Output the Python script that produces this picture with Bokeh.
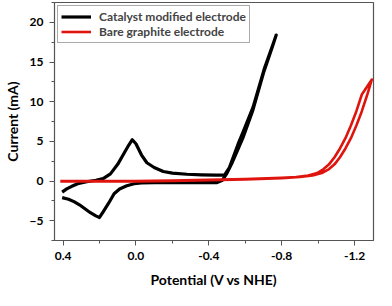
from bokeh.plotting import figure
from bokeh.models import Range1d, FixedTicker, Legend, LegendItem
from bokeh.embed import file_html
from bokeh.resources import INLINE

# Catalyst modified electrode (black CV)
cat_v = [0.405, 0.38, 0.355, 0.32, 0.27, 0.22, 0.18, 0.14, 0.10, 0.07, 0.04, 0.02, 0.0,
         -0.03, -0.06, -0.10, -0.15, -0.20, -0.28, -0.36, -0.44, -0.487, -0.513, -0.539,
         -0.565, -0.59, -0.643, -0.704, -0.747, -0.77,
         -0.75, -0.70, -0.64, -0.59, -0.56, -0.53, -0.50, -0.475, -0.445, -0.40, -0.30,
         -0.20, -0.10, -0.03, 0.01, 0.05, 0.09, 0.12, 0.15, 0.18, 0.20, 0.22, 0.25, 0.28,
         0.31, 0.34, 0.37, 0.405]
cat_i = [-1.4, -1.0, -0.7, -0.35, -0.1, 0.1, 0.3, 0.9, 2.1, 3.3, 4.5, 5.2, 4.7,
         3.3, 2.3, 1.7, 1.2, 1.0, 0.85, 0.78, 0.75, 0.77, 1.7, 3.3,
         4.9, 6.3, 9.3, 14.1, 16.9, 18.4,
         17.0, 13.6, 8.8, 5.6, 4.0, 2.4, 1.0, 0.1, -0.2, -0.2, -0.2,
         -0.2, -0.2, -0.25, -0.35, -0.6, -1.0, -1.6, -2.8, -3.9, -4.6, -4.4, -4.0, -3.5,
         -3.0, -2.6, -2.3, -2.1]

# Bare graphite electrode (red CV)
bare_v = [0.415, 0.2, 0.0, -0.2, -0.4, -0.6, -0.8, -0.9, -0.97, -1.02, -1.06, -1.09, -1.12,
          -1.15, -1.18, -1.21, -1.24, -1.27, -1.295,
          -1.24, -1.21, -1.18, -1.15, -1.12, -1.09, -1.06, -1.03, -0.995, -0.945,
          -0.88, -0.8, -0.6, -0.4, -0.2, 0.0, 0.2, 0.415]
bare_i = [-0.05, -0.05, -0.05, 0.0, 0.1, 0.2, 0.35, 0.5, 0.7, 1.0, 1.5, 2.1, 3.0,
          4.1, 5.4, 7.0, 8.8, 10.9, 12.8,
          10.9, 8.8, 7.0, 5.4, 4.1, 3.0, 2.1, 1.5, 1.0, 0.7,
          0.5, 0.4, 0.25, 0.15, 0.05, 0.0, 0.0, 0.0]

x_ticks = [0.4, 0.0, -0.4, -0.8, -1.2]
x_tick_labels = ["0.4", "0.0", "-0.4", "-0.8", "-1.2"]
x_minor = [0.4, 0.2, 0.0, -0.2, -0.4, -0.6, -0.8, -1.0, -1.2]
y_ticks = [-5, 0, 5, 10, 15, 20]
y_minor = [-7.5, -5, -2.5, 0, 2.5, 5, 7.5, 10, 12.5, 15, 17.5, 20, 22.5]

FONT = "Lato"
AX = "#555555"

p = figure(width=376, height=290, output_backend="svg", toolbar_location=None,
           x_range=Range1d(0.447, -1.304), y_range=Range1d(-7.5, 22.5),
           min_border_left=40, min_border_right=3, min_border_top=2, min_border_bottom=45)
p.xgrid.visible = False
p.ygrid.visible = False
p.outline_line_color = AX
p.outline_line_width = 1.2
p.background_fill_color = "white"

r_cat = p.line(cat_v, cat_i, line_color="black", line_width=3.2, line_join="round")
r_bare = p.line(bare_v, bare_i, line_color="#e0140e", line_width=2.6, line_join="round")

p.xaxis.ticker = FixedTicker(ticks=x_ticks, minor_ticks=x_minor)
p.xaxis.major_label_overrides = {t: l for t, l in zip(x_ticks, x_tick_labels)}
p.yaxis.ticker = FixedTicker(ticks=y_ticks, minor_ticks=y_minor)

for ax in (p.xaxis[0], p.yaxis[0]):
    ax.axis_line_color = AX
    ax.major_tick_line_color = AX
    ax.minor_tick_line_color = AX
    ax.major_tick_in = 0
    ax.major_tick_out = 5
    ax.minor_tick_in = 0
    ax.minor_tick_out = 3
    ax.major_label_text_font = FONT
    ax.major_label_text_font_style = "bold"
    ax.major_label_text_font_size = "12px"
    ax.major_label_text_color = "black"
    ax.axis_label_text_font = FONT
    ax.axis_label_text_font_style = "bold"
    ax.axis_label_text_font_size = "14px"
    ax.axis_label_text_color = "black"

p.xaxis.axis_label = "Potential (V vs NHE)"
p.yaxis.axis_label = "Current (mA)"
p.xaxis.major_label_standoff = 6
p.xaxis.axis_label_standoff = 8
p.yaxis.major_label_standoff = 6
p.yaxis.axis_label_standoff = 6

legend = Legend(items=[LegendItem(label="Catalyst modified electrode", renderers=[r_cat]),
                       LegendItem(label="Bare graphite electrode", renderers=[r_bare])],
                location="top_left")
legend.margin = 3
legend.padding = 3
legend.spacing = 0
legend.label_height = 13
legend.glyph_height = 13
legend.glyph_width = 30
legend.label_standoff = 8
legend.label_text_font = FONT
legend.label_text_font_style = "bold"
legend.label_text_font_size = "12px"
legend.border_line_color = AX
legend.border_line_width = 1
legend.background_fill_alpha = 1.0
p.add_layout(legend)

open("out.html", "w").write(file_html(p, INLINE))
